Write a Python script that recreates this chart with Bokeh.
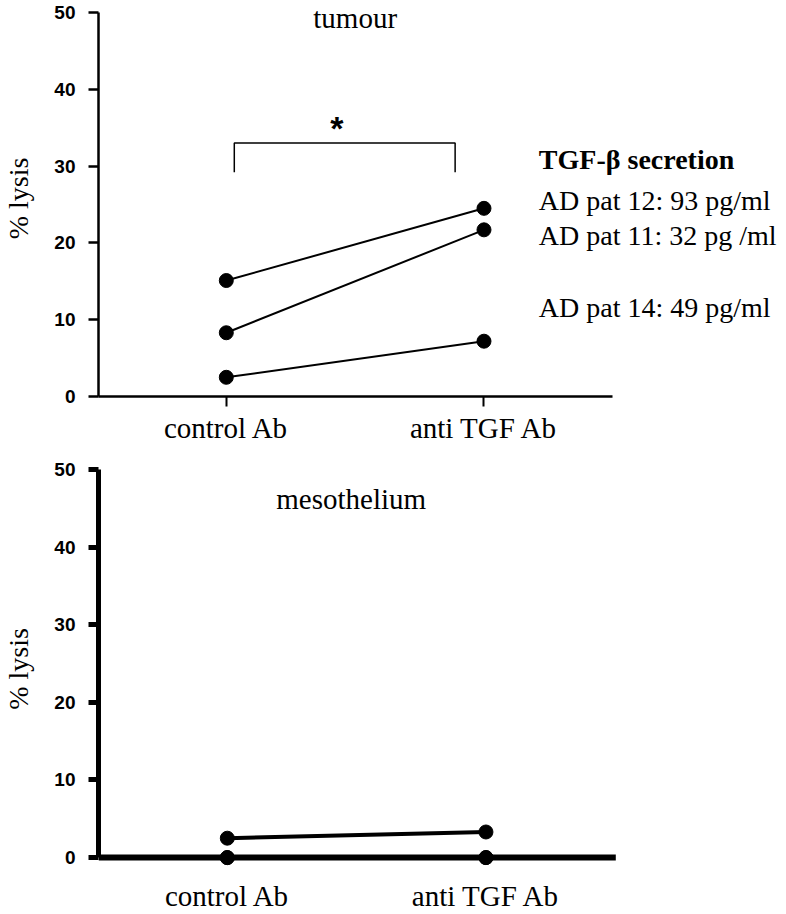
from bokeh.plotting import figure
from bokeh.models import Range1d, FixedTicker, Label, ColumnDataSource
from bokeh.layouts import column
from bokeh.embed import file_html
from bokeh.resources import INLINE

# ---------------- data ----------------
categories = ["control Ab", "anti TGF Ab"]
y_ticks = [0, 10, 20, 30, 40, 50]

tumour_control = [15.1, 8.3, 2.5]
tumour_anti = [24.5, 21.7, 7.2]

meso_control = [2.5, 0.0, 0.0]
meso_anti = [3.3, 0.0, 0.0]

legend_title = "TGF-\u03b2 secretion"
legend_lines = ["AD pat 12: 93 pg/ml", "AD pat 11: 32 pg /ml", "AD pat 14: 49 pg/ml"]
legend_title_y = 30.86
legend_y = [25.52, 20.96, 11.59]

panel_titles = ["tumour", "mesothelium"]
significance = "*"

cat_x = list(range(1, len(categories) + 1))
overrides = {x: c for x, c in zip(cat_x, categories)}

SERIF = "Liberation Serif"
SANS = "Liberation Sans"


def style_axes(p, axis_w, tick_w):
    p.outline_line_color = None
    p.xgrid.visible = False
    p.ygrid.visible = False
    p.background_fill_color = "white"
    p.border_fill_color = "white"
    ya = p.yaxis[0]
    ya.ticker = FixedTicker(ticks=y_ticks)
    ya.bounds = (0, 50)
    ya.axis_line_width = axis_w
    ya.axis_line_color = "black"
    ya.major_tick_line_width = tick_w
    ya.major_tick_line_color = "black"
    ya.major_tick_out = 10
    ya.major_tick_in = 0
    ya.minor_tick_line_color = None
    ya.major_label_text_font = SANS
    ya.major_label_text_font_style = "bold"
    ya.major_label_text_font_size = "19px"
    ya.major_label_text_color = "black"
    ya.major_label_standoff = 13
    ya.axis_label = "% lysis"
    ya.axis_label_text_font = SERIF
    ya.axis_label_text_font_style = "normal"
    ya.axis_label_text_font_size = "28px"
    ya.axis_label_text_color = "black"
    ya.axis_label_standoff = 17
    xa = p.xaxis[0]
    xa.ticker = FixedTicker(ticks=cat_x)
    xa.major_label_overrides = overrides
    xa.major_label_text_font = SERIF
    xa.major_label_text_font_size = "29px"
    xa.major_label_text_color = "black"
    xa.minor_tick_line_color = None


# ---------------- top panel: tumour ----------------
p1 = figure(width=786, height=458, x_range=Range1d(0.504, 3.174), y_range=Range1d(0, 51.56),
            output_backend="svg", toolbar_location=None,
            min_border_left=97, min_border_right=0, min_border_top=0, min_border_bottom=62)
style_axes(p1, 2.5, 2.5)
p1.xaxis[0].bounds = (0.504, 2.50)
p1.xaxis[0].axis_line_width = 2.5
p1.xaxis[0].major_tick_line_width = 2
p1.xaxis[0].major_tick_out = 10
p1.xaxis[0].major_tick_in = 0
p1.xaxis[0].major_label_standoff = 5

for c, a in zip(tumour_control, tumour_anti):
    p1.line(x=cat_x, y=[c, a], line_color="black", line_width=2)
src1 = ColumnDataSource(dict(x=[cat_x[0]] * len(tumour_control) + [cat_x[1]] * len(tumour_anti),
                             y=tumour_control + tumour_anti))
p1.scatter("x", "y", source=src1, size=14, marker="circle", fill_color="black", line_color="black")

# significance bracket
bx0, bx1, by_low, by_top = 1.031, 1.888, 29.2, 33.0
p1.line(x=[bx0, bx0, bx1, bx1], y=[by_low, by_top, by_top, by_low], line_color="black", line_width=1.5)
p1.add_layout(Label(x=1.429, y=34.9, text=significance, text_align="center", text_baseline="alphabetic",
                    text_font=SANS, text_font_style="bold", text_font_size="34px", text_color="black"))

p1.add_layout(Label(x=1.5, y=49.22, text=panel_titles[0], text_align="center", text_baseline="alphabetic",
                    text_font=SERIF, text_font_size="29px", text_color="black"))

p1.add_layout(Label(x=2.213, y=legend_title_y, text=legend_title, text_align="left", text_baseline="alphabetic",
                    text_font=SERIF, text_font_style="bold", text_font_size="28px", text_color="black"))
for t, yy in zip(legend_lines, legend_y):
    p1.add_layout(Label(x=2.213, y=yy, text=t, text_align="left", text_baseline="alphabetic",
                        text_font=SERIF, text_font_size="28px", text_color="black"))

# ---------------- bottom panel: mesothelium ----------------
p2 = figure(width=786, height=456, x_range=Range1d(0.502, 3.162), y_range=Range1d(-2.82, 51.41),
            output_backend="svg", toolbar_location=None,
            min_border_left=97, min_border_right=0, min_border_top=0, min_border_bottom=33)
style_axes(p2, 5, 5)
p2.xaxis[0].axis_line_color = None
p2.xaxis[0].major_tick_line_color = None
p2.xaxis[0].major_tick_out = 0
p2.xaxis[0].major_tick_in = 0
p2.xaxis[0].major_label_standoff = 0

# x axis line of the bottom panel (drawn at zero, ending where the top axis ends)
ax_x0, ax_x1 = 0.502, 2.502
p2.segment(x0=[ax_x0], y0=[0], x1=[ax_x1], y1=[0], line_color="black", line_width=6)

for c, a in zip(meso_control, meso_anti):
    p2.line(x=cat_x, y=[c, a], line_color="black", line_width=4)
src2 = ColumnDataSource(dict(x=[cat_x[0]] * len(meso_control) + [cat_x[1]] * len(meso_anti),
                             y=meso_control + meso_anti))
p2.scatter("x", "y", source=src2, size=14, marker="circle", fill_color="black", line_color="black")

p2.add_layout(Label(x=1.479, y=46.15, text=panel_titles[1], text_align="center", text_baseline="alphabetic",
                    text_font=SERIF, text_font_size="29px", text_color="black"))

layout = column(p1, p2, spacing=0)

open("out.html", "w").write(file_html(layout, INLINE))
